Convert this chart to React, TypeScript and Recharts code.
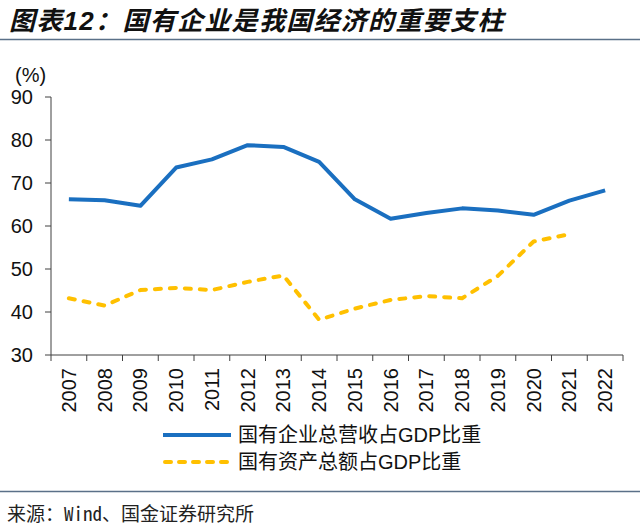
import React from 'react';
import { LineChart, Line, XAxis, YAxis, Legend } from 'recharts';

const years = ['2007', '2008', '2009', '2010', '2011', '2012', '2013', '2014', '2015', '2016', '2017', '2018', '2019', '2020', '2021', '2022'];
const revenueShare = [66.2, 66.0, 64.7, 73.6, 75.5, 78.8, 78.4, 74.9, 66.2, 61.7, 63.0, 64.1, 63.6, 62.6, 65.9, 68.3];
const assetShare: (number | null)[] = [43.2, 41.5, 45.1, 45.6, 45.1, 47.0, 48.5, 38.2, 40.8, 42.8, 43.7, 43.2, 48.4, 56.4, 58.1, null];
const yTicks = [30, 40, 50, 60, 70, 80, 90];
const seriesNames = ['国有企业总营收占GDP比重', '国有资产总额占GDP比重'];

const data = years.map((y, i) => ({ idx: i, year: y, revenue: revenueShare[i], asset: assetShare[i] }));
const labelTicks = years.map((_, i) => i);
const markTicks = [...years.map((_, i) => i - 0.5), years.length - 0.5];
const allTicks = [...markTicks, ...labelTicks].sort((a, b) => a - b);

const FONT = '"Liberation Sans", Arial, "Noto Sans CJK SC", sans-serif';
const BLUE = '#1a6fc0';
const YELLOW = '#FFC000';
const AXIS = '#404040';

const XTick = (props: any) => {
  const { x, y, payload } = props;
  const v = payload.value;
  if (Number.isInteger(v)) {
    const ty = y + 5;
    return (
      <text
        x={x}
        y={ty}
        transform={`rotate(-90, ${x}, ${ty})`}
        textAnchor="end"
        dominantBaseline="central"
        fontSize={20}
        fontFamily={FONT}
        fill="#111"
      >
        {years[v]}
      </text>
    );
  }
  return <line x1={x} x2={x} y1={y - 8} y2={y - 2} stroke={AXIS} strokeWidth={1} />;
};

const LegendContent = () => (
  <div style={{ fontFamily: FONT, fontSize: 20, color: '#111' }}>
    {seriesNames.map((name, i) => (
      <div key={name} style={{ display: 'flex', alignItems: 'center', height: 26.7 }}>
        <svg width={70} height={10} style={{ display: 'block' }}>
          {i === 0 ? (
            <line x1={1} x2={69} y1={5} y2={5} stroke={BLUE} strokeWidth={4} />
          ) : (
            <line x1={3} x2={69} y1={5} y2={5} stroke={YELLOW} strokeWidth={4} strokeDasharray="6 8" strokeLinecap="round" />
          )}
        </svg>
        <span style={{ marginLeft: 6, whiteSpace: 'nowrap', lineHeight: '26px' }}>{name}</span>
      </div>
    ))}
  </div>
);

export default function App() {
  return (
    <div style={{ position: 'absolute', left: 0, top: 0, width: 640, height: 526, background: '#fff' }}>
      <LineChart
        width={640}
        height={526}
        data={data}
        margin={{ top: 97, right: 17, left: 0, bottom: 111 }}
      >
        <XAxis
          dataKey="idx"
          type="number"
          domain={[-0.5, years.length - 0.5]}
          ticks={allTicks}
          interval={0}
          tick={<XTick />}
          tickLine={false}
          tickSize={6}
          tickMargin={2}
          height={60}
          axisLine={{ stroke: AXIS, strokeWidth: 1 }}
          allowDecimals
        />
        <YAxis
          domain={[30, 90]}
          ticks={yTicks}
          interval={0}
          width={51}
          tickSize={6}
          tickMargin={12}
          tick={{ fontSize: 20, fill: '#111', fontFamily: FONT }}
          axisLine={{ stroke: AXIS, strokeWidth: 1 }}
          tickLine={{ stroke: AXIS, strokeWidth: 1 }}
        />
        <Legend
          layout="vertical"
          align="center"
          verticalAlign="middle"
          content={<LegendContent />}
          wrapperStyle={{ left: 162, top: 422, width: 360 }}
        />
        <Line
          dataKey="revenue"
          name={seriesNames[0]}
          stroke={BLUE}
          strokeWidth={4}
          dot={false}
          activeDot={false}
          isAnimationActive={false}
          strokeLinejoin="round"
        />
        <Line
          dataKey="asset"
          name={seriesNames[1]}
          stroke={YELLOW}
          strokeWidth={4}
          strokeDasharray="6 9"
          strokeLinecap="round"
          dot={false}
          activeDot={false}
          isAnimationActive={false}
          strokeLinejoin="round"
        />
      </LineChart>
      <svg width={640} height={526} style={{ position: 'absolute', left: 0, top: 0, pointerEvents: 'none' }}>
        <text
          x={9}
          y={21}
          dominantBaseline="central"
          fontSize={26}
          fontWeight="bold"
          fontStyle="italic"
          fontFamily={FONT}
          letterSpacing={1.3}
          fill="#111"
        >
          图表12：国有企业是我国经济的重要支柱
        </text>
        <line x1={0} x2={640} y1={39.5} y2={39.5} stroke="#5a7088" strokeWidth={1.5} />
        <text x={15} y={75} dominantBaseline="central" fontSize={20} fontFamily={FONT} fill="#111">
          (%)
        </text>
        <line x1={0} x2={640} y1={491.5} y2={491.5} stroke="#5a7088" strokeWidth={1.5} />
        <text
          x={7}
          y={512}
          dominantBaseline="central"
          fontSize={19}
          fontFamily={'"Noto Sans Mono CJK SC", "Noto Sans CJK SC", monospace'}
          fill="#222"
        >
          来源：Wind、国金证券研究所
        </text>
      </svg>
    </div>
  );
}
